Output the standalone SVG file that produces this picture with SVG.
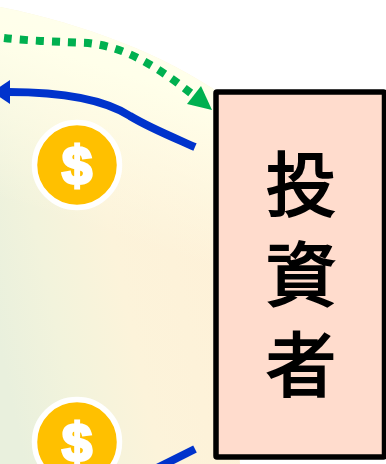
<svg xmlns="http://www.w3.org/2000/svg" width="386" height="464" viewBox="0 0 386 464">
<style>
.coin{fill:#ffc000;stroke:#fff;stroke-width:5.5}
.sign{font-family:"Liberation Sans",Arial,sans-serif;font-weight:700;font-size:54px;fill:#fff;stroke:#fff;stroke-width:3;text-anchor:middle}
.label{font-family:"Noto Sans CJK TC","Noto Sans CJK SC",sans-serif;font-weight:400;font-size:70px;fill:#000;stroke:#000;stroke-width:2.2;text-anchor:middle}
.flow{fill:none;stroke:#0033cc;stroke-width:8}
</style>
<defs>
<linearGradient id="h" gradientUnits="userSpaceOnUse" x1="-10" y1="300" x2="225" y2="250">
<stop offset="0" stop-color="#e9f0dd"/>
<stop offset="0.25" stop-color="#f2f3dc"/>
<stop offset="0.55" stop-color="#fcf3da"/>
<stop offset="1" stop-color="#fef1d8"/>
</linearGradient>
<linearGradient id="v" gradientUnits="userSpaceOnUse" x1="60" y1="220" x2="120" y2="30">
<stop offset="0" stop-color="#fffde8" stop-opacity="0"/>
<stop offset="0.8" stop-color="#ffffea"/>
<stop offset="1" stop-color="#ffffec"/>
</linearGradient>
<path id="shape" d="M0 7C85 24 165 55 222 95L240 464H0Z"/>
</defs>
<g id="background">
<use href="#shape" fill="url(#h)"/>
<use href="#shape" fill="url(#v)"/>
</g>
<g id="connectors">
<path d="M4 38C30 41 65 42 88 43C125 47 155 65 192 94" fill="none" stroke="#00b050" stroke-width="8" stroke-dasharray="8 8"/>
<path d="M201 86L212 110L187 104Z" fill="#00b050"/>
<path class="flow" d="M195 147C170 136 150 128 130 116C105 100 65 92 8 92"/>
<path d="M10 80L-8 92L10 104Z" fill="#0033cc"/>
<path class="flow" d="M195 449L155 469"/>
</g>
<g id="coin-1">
<circle class="coin" cx="77" cy="165" r="42.500"/>
<text class="sign" x="77" y="184">$</text>
</g>
<g id="coin-2">
<circle class="coin" cx="77" cy="442" r="42.500"/>
<text class="sign" x="77" y="461">$</text>
</g>
<g id="investor">
<rect x="216" y="92" width="168.500" height="365" rx="1" fill="#ffdccd" stroke="#000" stroke-width="5.500"/>
<text class="label" x="301" y="211">投</text>
<text class="label" x="301" y="301">資</text>
<text class="label" x="301" y="391">者</text>
</g>
</svg>
